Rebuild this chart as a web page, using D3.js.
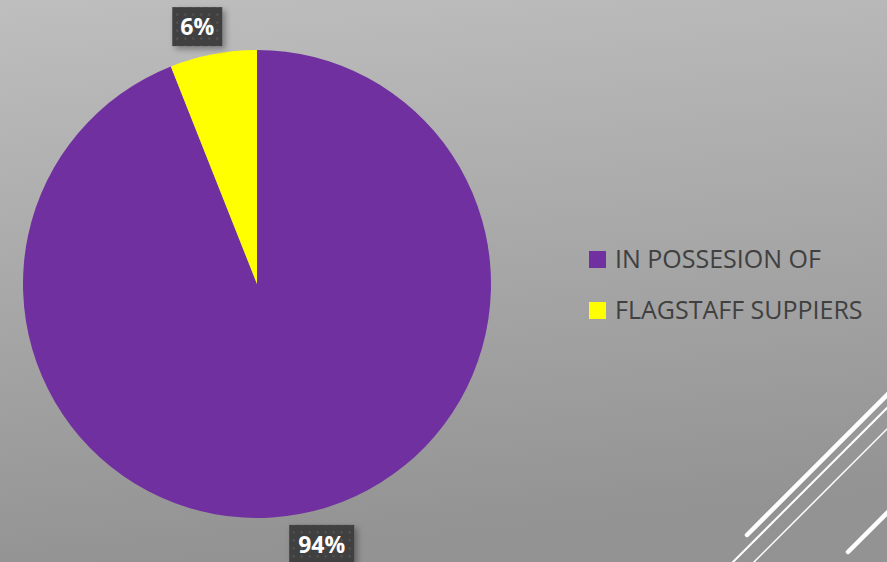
<!DOCTYPE html>
<html>
<head>
<meta charset="utf-8">
<script src="https://cdn.jsdelivr.net/npm/d3@7"></script>
<style>
  html, body { margin: 0; padding: 0; overflow: hidden; }
  body { width: 887px; height: 562px; }
</style>
</head>
<body>
<div id="pie"></div>
<script>
// data
var categories = ["IN POSSESION OF", "FLAGSTAFF SUPPIERS"]
var values = [94, 6]
var colors = ["#7030A0", "#FFFF00"]

var width = 887, height = 562
var cx = 257, cy = 284, radius = 234

var svg = d3.select("#pie").append("svg")
    .attr("width", width)
    .attr("height", height)

var defs = svg.append("defs")

var bg = defs.append("linearGradient")
    .attr("id", "bg")
    .attr("x1", 0).attr("y1", 0).attr("x2", 0.15).attr("y2", 1)
bg.append("stop").attr("offset", "0%").attr("stop-color", "#bebebe")
bg.append("stop").attr("offset", "100%").attr("stop-color", "#939393")

// dotted texture for the data label boxes
var pat = defs.append("pattern")
    .attr("id", "dots")
    .attr("width", 8).attr("height", 8)
    .attr("patternUnits", "userSpaceOnUse")
pat.append("rect").attr("width", 8).attr("height", 8).attr("fill", "#404040")
pat.append("rect").attr("x", 3).attr("y", 3).attr("width", 2).attr("height", 2).attr("fill", "#555")

var shadow = defs.append("filter").attr("id", "shadow")
    .attr("x", "-30%").attr("y", "-30%").attr("width", "170%").attr("height", "170%")
shadow.append("feDropShadow")
    .attr("dx", 3).attr("dy", 3).attr("stdDeviation", 3)
    .attr("flood-color", "#000").attr("flood-opacity", 0.35)

svg.append("rect")
    .attr("width", width).attr("height", height)
    .attr("fill", "url(#bg)")

// decorative lines bottom right
var deco = [
  {x1: 747, y1: 535, x2: 890, y2: 392, w: 4.5},
  {x1: 732, y1: 563, x2: 890, y2: 405, w: 2},
  {x1: 753, y1: 563, x2: 890, y2: 426, w: 1.5},
  {x1: 848, y1: 552, x2: 890, y2: 510, w: 4.5}
]
svg.selectAll(".deco").data(deco).enter().append("line")
    .attr("class", "deco")
    .attr("x1", d => d.x1).attr("y1", d => d.y1)
    .attr("x2", d => d.x2).attr("y2", d => d.y2)
    .attr("stroke", "#fff")
    .attr("stroke-width", d => d.w)
    .attr("stroke-linecap", "round")

var pie = d3.pie().sort(null).value(d => d)
var arc = d3.arc().innerRadius(0).outerRadius(radius)

var g = svg.append("g").attr("transform", "translate(" + cx + "," + cy + ")")

var arcs = pie(values)

g.selectAll("path").data(arcs).enter().append("path")
    .attr("d", arc)
    .attr("fill", (d, i) => colors[i])

// data labels outside the pie (nudged like the office layout)
var labelArc = d3.arc().innerRadius(radius + 26).outerRadius(radius + 26)
var nudge = [[16, 5], [-11, -2]]
var boxW = [65, 50], boxH = 39

var labels = g.selectAll(".lbl").data(arcs).enter().append("g")
    .attr("class", "lbl")
    .attr("transform", function(d, i) {
      var p = labelArc.centroid(d)
      return "translate(" + (p[0] + nudge[i][0]) + "," + (p[1] + nudge[i][1]) + ")"
    })

labels.append("rect")
    .attr("x", (d, i) => -boxW[i] / 2)
    .attr("y", -boxH / 2)
    .attr("width", (d, i) => boxW[i])
    .attr("height", boxH)
    .attr("fill", "url(#dots)")
    .attr("filter", "url(#shadow)")

labels.append("text")
    .attr("text-anchor", "middle")
    .attr("dy", "0.36em")
    .attr("fill", "#fff")
    .attr("font-family", "Open Sans")
    .attr("font-weight", "bold")
    .attr("font-size", "23px")
    .text(d => d.data + "%")

// legend
var legend = svg.append("g").attr("transform", "translate(589,251)")
var item = legend.selectAll(".item").data(categories).enter().append("g")
    .attr("class", "item")
    .attr("transform", (d, i) => "translate(0," + i * 51 + ")")
item.append("rect")
    .attr("width", 17).attr("height", 17)
    .attr("fill", (d, i) => colors[i])
item.append("text")
    .attr("x", 26).attr("y", 17)
    .attr("fill", "#404040")
    .attr("font-family", "Open Sans")
    .attr("font-size", "25px")
    .text(d => d)
</script>
</body>
</html>
